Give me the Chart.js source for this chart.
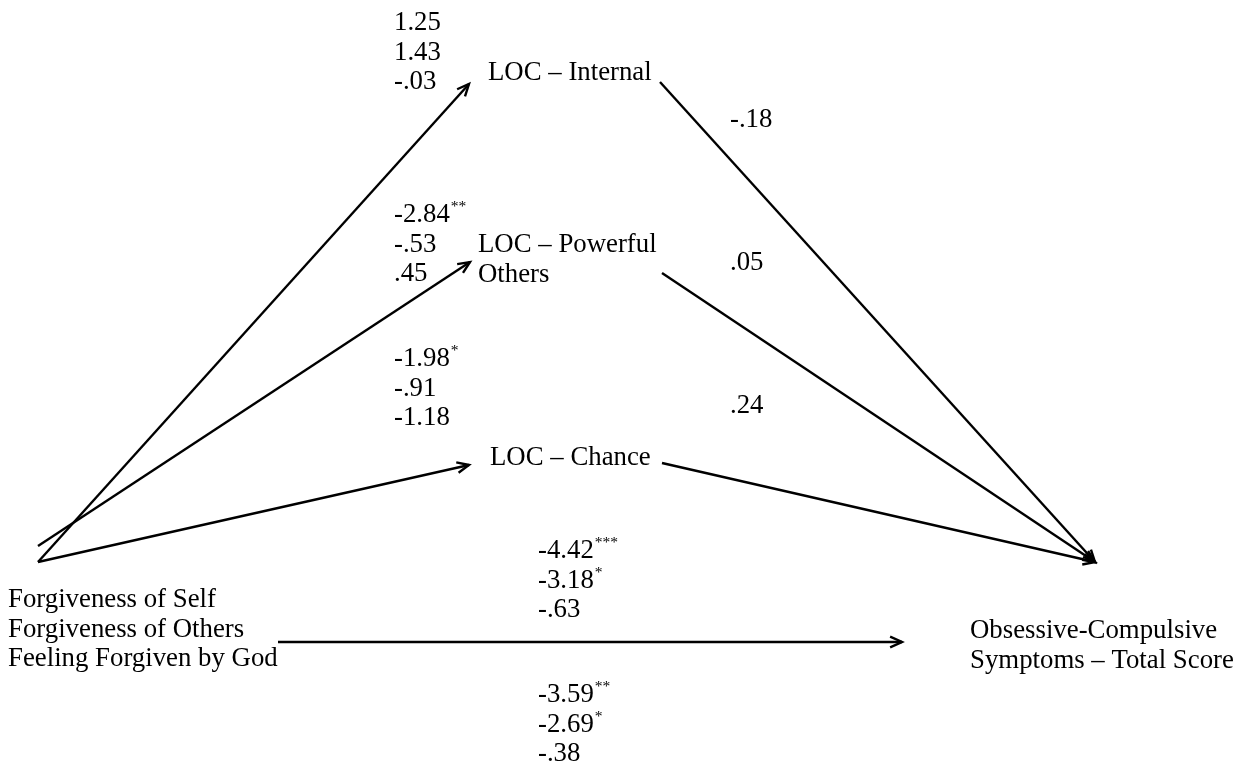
<!DOCTYPE html>
<html><head><meta charset="utf-8">
<script src="https://cdn.jsdelivr.net/npm/chart.js@4.4.1/dist/chart.umd.min.js"></script>
<style>html,body{margin:0;padding:0;background:#fff;}#wrap{width:1239px;height:766px;}</style>
</head><body><div id="wrap"><canvas id="c"></canvas></div>
<script>
// ---- data ----
const sourceLabels = ['Forgiveness of Self', 'Forgiveness of Others', 'Feeling Forgiven by God'];
const mediatorLabels = [['LOC \u2013 Internal'], ['LOC \u2013 Powerful', 'Others'], ['LOC \u2013 Chance']];
const outcomeLabels = ['Obsessive-Compulsive', 'Symptoms \u2013 Total Score'];
const aCoefs = [['1.25', '1.43', '-.03'], ['-2.84', '-.53', '.45'], ['-1.98', '-.91', '-1.18']];
const aStars = [['', '', ''], ['**', '', ''], ['*', '', '']];
const bCoefs = ['-.18', '.05', '.24'];
const directCoefs = ['-4.42', '-3.18', '-.63'];
const directStars = ['***', '*', ''];
const totalCoefs = ['-3.59', '-2.69', '-.38'];
const totalStars = ['**', '*', ''];

// ---- layout (diagram geometry in axis units) ----
const W = 1239, H = 766;
const aStart = [[38, 562], [38, 546], [38, 562]];
const aEnd = [[469, 84], [470, 262], [469, 465]];
const bStart = [[660, 82], [662, 273], [662, 463]];
const outTip = [1095, 562];
const cStart = [278, 642], cEnd = [902, 642];
const aLabelPos = [[394, 30], [394, 222], [394, 366]];
const medPos = [[488, 80], [478, 252], [490, 465]];
const bLabelPos = [[730, 127], [730, 270], [730, 413]];
const directPos = [538, 558];
const totalPos = [538, 702];
const sourcePos = [8, 607];
const outcomePos = [970, 638];
const LH = 29.5;
const FONT = '"Liberation Serif", "Times New Roman", serif';
const FS = 26.8, SS = 15.5;

const segs = [];
for (let i = 0; i < 3; i++) segs.push([aStart[i], aEnd[i]]);
for (let i = 0; i < 3; i++) segs.push([bStart[i], outTip]);
segs.push([cStart, cEnd]);

const datasets = segs.map(s => ({
  type: 'line',
  data: [{x: s[0][0], y: s[0][1]}, {x: s[1][0], y: s[1][1]}],
  borderColor: '#000', borderWidth: 2.4, pointRadius: 0, showLine: true, fill: false,
  tension: 0, borderCapStyle: 'butt'
}));

const diagramPlugin = {
  id: 'diagram',
  afterDatasetsDraw(chart) {
    const ctx = chart.ctx, xs = chart.scales.x, ys = chart.scales.y;
    const X = v => xs.getPixelForValue(v), Y = v => ys.getPixelForValue(v);
    ctx.save();
    // arrowheads
    ctx.strokeStyle = '#000'; ctx.lineWidth = 2.4; ctx.lineCap = 'butt'; ctx.lineJoin = 'miter';
    chart.data.datasets.forEach(ds => {
      const p0 = ds.data[0], p1 = ds.data[1];
      const x0 = X(p0.x), y0 = Y(p0.y), x1 = X(p1.x), y1 = Y(p1.y);
      const ang = Math.atan2(y1 - y0, x1 - x0), L = 13, A = 0.42;
      ctx.beginPath();
      ctx.moveTo(x1 - L * Math.cos(ang - A), y1 - L * Math.sin(ang - A));
      ctx.lineTo(x1, y1);
      ctx.lineTo(x1 - L * Math.cos(ang + A), y1 - L * Math.sin(ang + A));
      ctx.stroke();
    });
    // text
    ctx.fillStyle = '#000'; ctx.textBaseline = 'alphabetic'; ctx.textAlign = 'left';
    const txt = (s, x, y, sup) => {
      ctx.font = FS + 'px ' + FONT;
      ctx.fillText(s, X(x), Y(y));
      if (sup) {
        const w = ctx.measureText(s).width;
        ctx.font = SS + 'px ' + FONT;
        ctx.fillText(sup, X(x) + w + 1, Y(y) - 11);
      }
    };
    const block = (arr, stars, pos) => arr.forEach((s, i) => txt(s, pos[0], pos[1] + i * LH, stars ? stars[i] : ''));
    for (let i = 0; i < 3; i++) {
      block(aCoefs[i], aStars[i], aLabelPos[i]);
      block(mediatorLabels[i], null, medPos[i]);
      txt(bCoefs[i], bLabelPos[i][0], bLabelPos[i][1]);
    }
    block(directCoefs, directStars, directPos);
    block(totalCoefs, totalStars, totalPos);
    block(sourceLabels, null, sourcePos);
    block(outcomeLabels, null, outcomePos);
    ctx.restore();
  }
};

new Chart(document.getElementById('c'), {
  type: 'scatter',
  data: {datasets},
  options: {
    responsive: true, maintainAspectRatio: false, animation: false,
    layout: {padding: 0},
    plugins: {legend: {display: false}, tooltip: {enabled: false}, title: {display: false}},
    scales: {
      x: {type: 'linear', min: 0, max: W, display: false},
      y: {type: 'linear', min: 0, max: H, reverse: true, display: false}
    }
  },
  plugins: [diagramPlugin]
});
</script></body></html>
